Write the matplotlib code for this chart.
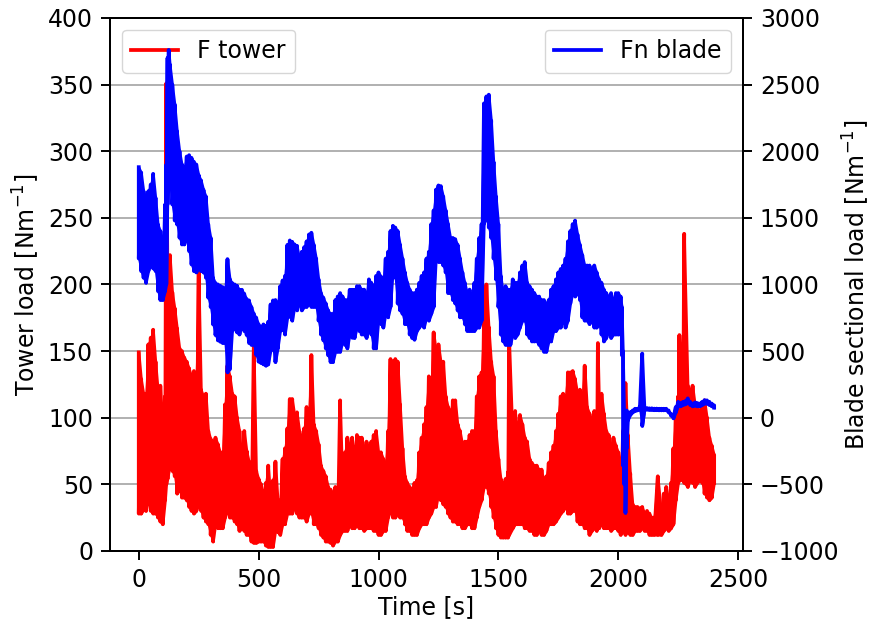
import numpy as np
import matplotlib
matplotlib.use("Agg")
import matplotlib.pyplot as plt

# Tower load: per-window max / min envelope [N/m]
tower_t = [0, 10, 20, 30, 40, 50, 60, 70, 80, 90, 100, 110, 115, 120, 130, 140, 150, 160, 170, 180,
           190, 200, 210, 220, 230, 240, 250, 260, 270, 280, 290, 300, 310, 320, 330, 340, 350, 360, 370, 380,
           390, 400, 410, 420, 430, 440, 450, 460, 470, 480, 490, 500, 510, 520, 530, 540, 550, 560, 570, 580,
           590, 600, 610, 620, 630, 640, 650, 660, 670, 680, 690, 700, 710, 720, 730, 740, 750, 760, 770, 780,
           790, 800, 810, 820, 830, 840, 850, 860, 870, 880, 890, 900, 910, 920, 930, 940, 950, 960, 970, 980,
           990, 1000, 1010, 1020, 1030, 1040, 1050, 1060, 1070, 1080, 1090, 1100, 1110, 1120, 1130, 1140, 1150, 1160, 1170, 1180,
           1190, 1200, 1210, 1220, 1230, 1240, 1250, 1260, 1270, 1280, 1290, 1300, 1310, 1320, 1330, 1340, 1350, 1360, 1370, 1380,
           1390, 1400, 1410, 1420, 1430, 1440, 1450, 1460, 1470, 1480, 1490, 1500, 1510, 1520, 1530, 1540, 1545, 1560, 1570, 1580,
           1590, 1600, 1610, 1620, 1630, 1640, 1650, 1660, 1670, 1680, 1690, 1700, 1710, 1720, 1730, 1740, 1750, 1760, 1770, 1780,
           1790, 1800, 1810, 1820, 1830, 1840, 1850, 1860, 1870, 1880, 1890, 1900, 1910, 1915, 1920, 1930, 1940, 1950, 1960, 1970,
           1980, 1990, 2000, 2010, 2020, 2030, 2040, 2050, 2060, 2070, 2080, 2090, 2100, 2110, 2120, 2130, 2140, 2150, 2165, 2180,
           2190, 2200, 2210, 2220, 2230, 2240, 2250, 2255, 2260, 2270, 2275, 2290, 2300, 2310, 2320, 2330, 2340, 2350, 2360, 2370,
           2380, 2390, 2400]
tower_hi = [149, 129, 118, 118, 155, 160, 166, 142, 121, 124, 95, 116, 351, 219, 222, 194, 182, 167, 152, 150,
            145, 142, 137, 131, 135, 131, 209, 121, 116, 118, 90, 84, 82, 85, 80, 74, 74, 110, 139, 131,
            118, 116, 100, 90, 67, 90, 75, 67, 64, 155, 60, 54, 50, 43, 51, 64, 40, 53, 67, 38,
            38, 69, 77, 92, 114, 114, 102, 104, 90, 85, 92, 108, 105, 147, 95, 90, 80, 64, 60, 56,
            48, 46, 43, 48, 38, 113, 51, 74, 85, 77, 85, 74, 87, 85, 85, 77, 82, 77, 82, 87,
            90, 74, 74, 69, 64, 90, 144, 142, 144, 142, 110, 77, 56, 51, 48, 43, 51, 53, 74, 85,
            95, 108, 131, 118, 164, 150, 155, 142, 142, 116, 108, 105, 113, 113, 95, 90, 80, 82, 82, 87,
            90, 90, 116, 131, 134, 175, 200, 168, 142, 131, 90, 69, 54, 51, 54, 59, 161, 85, 105, 90,
            102, 95, 85, 82, 69, 66, 64, 64, 61, 61, 51, 56, 66, 74, 79, 90, 103, 116, 118, 116,
            134, 134, 135, 129, 118, 121, 116, 139, 108, 103, 98, 105, 100, 156, 116, 118, 103, 90, 87, 77,
            85, 79, 74, 64, 90, 126, 87, 58, 35, 33, 33, 32, 33, 28, 30, 28, 25, 25, 56, 28,
            43, 48, 38, 51, 77, 103, 116, 162, 155, 116, 238, 124, 121, 124, 110, 108, 105, 110, 113, 100,
            85, 79, 72]
tower_lo = [28, 28, 31, 30, 38, 30, 28, 28, 25, 22, 20, 38, 50, 54, 64, 60, 56, 43, 46, 40,
            40, 38, 33, 30, 28, 30, 35, 30, 25, 22, 20, 12, 7, 20, 17, 17, 17, 25, 30, 25,
            25, 22, 20, 15, 17, 15, 12, 12, 7, 6, 6, 7, 7, 7, 4, 3, 3, 3, 15, 14,
            12, 20, 20, 28, 28, 28, 33, 28, 25, 25, 25, 22, 28, 28, 20, 20, 17, 12, 10, 7,
            7, 6, 4, 7, 7, 12, 15, 15, 15, 20, 17, 17, 20, 17, 17, 15, 17, 17, 17, 15,
            15, 12, 12, 15, 15, 25, 30, 25, 25, 28, 25, 25, 20, 15, 15, 12, 12, 12, 17, 20,
            20, 20, 25, 28, 33, 33, 43, 38, 35, 33, 28, 25, 22, 22, 20, 20, 17, 17, 20, 20,
            17, 17, 25, 33, 38, 48, 48, 43, 33, 25, 17, 12, 10, 10, 10, 10, 12, 17, 20, 20,
            20, 20, 17, 17, 15, 15, 12, 12, 15, 12, 12, 15, 20, 20, 20, 22, 25, 28, 30, 33,
            28, 28, 30, 30, 22, 20, 20, 17, 17, 12, 15, 17, 15, 20, 17, 20, 17, 17, 17, 15,
            17, 17, 15, 12, 15, 12, 15, 12, 12, 15, 15, 15, 17, 15, 15, 12, 12, 12, 12, 12,
            15, 17, 15, 17, 20, 38, 51, 53, 53, 56, 51, 48, 53, 51, 48, 51, 53, 51, 43, 40,
            38, 40, 51]

# Blade sectional load: per-window max / min envelope [N/m]
blade_t = [0, 10, 20, 30, 40, 50, 60, 70, 80, 90, 100, 110, 115, 120, 125, 130, 140, 150, 160, 170,
           180, 190, 200, 210, 220, 230, 240, 250, 260, 270, 280, 290, 300, 310, 320, 330, 340, 350, 360, 370,
           380, 390, 400, 410, 420, 430, 440, 450, 460, 470, 480, 490, 500, 510, 520, 530, 540, 550, 560, 570,
           580, 590, 600, 610, 620, 630, 640, 650, 660, 670, 680, 690, 700, 710, 720, 730, 740, 750, 760, 770,
           780, 790, 800, 810, 820, 830, 840, 850, 860, 870, 880, 890, 900, 910, 920, 930, 940, 950, 960, 970,
           980, 990, 1000, 1010, 1020, 1030, 1040, 1050, 1060, 1070, 1080, 1090, 1100, 1110, 1120, 1130, 1140, 1150, 1160, 1170,
           1180, 1190, 1200, 1210, 1220, 1230, 1240, 1250, 1260, 1270, 1280, 1290, 1300, 1310, 1320, 1330, 1340, 1350, 1360, 1370,
           1380, 1390, 1400, 1410, 1420, 1430, 1440, 1450, 1460, 1470, 1480, 1490, 1500, 1510, 1520, 1530, 1540, 1550, 1560, 1570,
           1580, 1590, 1600, 1610, 1620, 1630, 1640, 1650, 1660, 1670, 1680, 1690, 1700, 1710, 1720, 1730, 1740, 1750, 1760, 1770,
           1780, 1790, 1800, 1810, 1820, 1830, 1840, 1850, 1860, 1870, 1880, 1890, 1900, 1910, 1920, 1930, 1940, 1950, 1960, 1970,
           1980, 1990, 2000, 2010, 2015, 2020, 2025, 2030, 2035, 2040, 2050, 2060, 2070, 2080, 2090, 2100, 2110, 2120, 2130, 2140,
           2150, 2160, 2170, 2180, 2190, 2200, 2210, 2220, 2230, 2240, 2250, 2260, 2270, 2280, 2290, 2300, 2310, 2320, 2330, 2340,
           2350, 2360, 2370, 2380, 2390, 2400]
blade_hi = [1880, 1840, 1700, 1650, 1700, 1750, 1830, 1650, 1450, 1400, 1300, 1600, 1900, 2700, 2760, 2650, 2500, 2350, 2150, 2000,
            1900, 1880, 1960, 1970, 1950, 1920, 1900, 1820, 1780, 1710, 1660, 1450, 1350, 1050, 1010, 1000, 990, 980, 970, 1190,
            1040, 1010, 1000, 990, 960, 960, 930, 890, 880, 830, 780, 750, 700, 680, 700, 690, 720, 850, 880, 883,
            860, 987, 1030, 1064, 1297, 1330, 1320, 1300, 1290, 1194, 1245, 1280, 1323, 1375, 1388, 1297, 1194, 1038, 935, 900,
            857, 805, 779, 779, 883, 910, 935, 909, 883, 883, 960, 960, 960, 987, 987, 961, 961, 935, 1038, 1012,
            987, 1064, 1090, 1060, 1012, 1194, 1245, 1401, 1440, 1427, 1401, 1297, 1194, 1090, 1012, 961, 935, 935, 961, 1012,
            1064, 1090, 1194, 1245, 1453, 1556, 1712, 1743, 1738, 1660, 1556, 1453, 1349, 1349, 1340, 1297, 1194, 1090, 1012, 935,
            961, 909, 1012, 1194, 1349, 1453, 2359, 2411, 2424, 2230, 1919, 1660, 1453, 1064, 935, 987, 961, 961, 1038, 1012,
            1012, 1090, 1142, 1168, 1012, 987, 961, 935, 909, 909, 883, 883, 857, 883, 961, 987, 1038, 1090, 1116, 1142,
            1194, 1323, 1401, 1453, 1479, 1375, 1297, 1220, 1142, 1142, 1142, 1116, 1142, 1090, 1038, 1012, 961, 935, 909, 935,
            883, 935, 935, 909, 831, 500, 54, 0, 54, 30, 41, 54, 67, 67, 80, 481, 75, 72, 70, 70,
            68, 68, 67, 67, 67, 67, 54, 28, 8, 80, 119, 110, 119, 125, 145, 119, 106, 115, 110, 106,
            119, 132, 130, 119, 106, 93]
blade_lo = [1194, 1100, 1050, 1012, 1100, 1150, 1120, 1100, 950, 883, 883, 950, 1000, 1600, 1750, 1750, 1600, 1480, 1450, 1350,
            1300, 1300, 1350, 1250, 1150, 1100, 1090, 1120, 1100, 1090, 1050, 900, 830, 700, 620, 580, 570, 560, 560, 340,
            365, 650, 670, 640, 624, 700, 650, 620, 560, 546, 546, 470, 420, 410, 400, 390, 400, 500, 520, 417,
            520, 650, 660, 624, 750, 760, 728, 830, 805, 857, 805, 831, 831, 857, 831, 831, 831, 728, 624, 580,
            520, 468, 417, 417, 494, 494, 494, 572, 546, 520, 624, 600, 598, 676, 650, 624, 624, 598, 676, 624,
            520, 520, 728, 702, 676, 779, 753, 831, 1100, 1050, 857, 805, 779, 702, 702, 624, 598, 585, 650, 676,
            702, 676, 753, 728, 779, 831, 1194, 1168, 1168, 1142, 1090, 935, 935, 883, 857, 805, 753, 753, 702, 650,
            650, 650, 650, 676, 676, 728, 1453, 1505, 1427, 1349, 1194, 1038, 831, 624, 572, 546, 546, 546, 624, 598,
            624, 676, 728, 728, 624, 598, 572, 572, 572, 546, 520, 494, 494, 572, 572, 650, 650, 676, 676, 728,
            676, 728, 857, 935, 909, 935, 883, 753, 728, 728, 702, 728, 676, 676, 702, 624, 572, 598, 650, 598,
            624, 624, 624, 624, 469, -360, -500, -715, -231, -20, 20, 40, 50, 55, 60, -62, 60, 60, 58, 58,
            56, 56, 55, 55, 55, 55, 40, 15, -5, 40, 90, 85, 95, 100, 110, 95, 85, 90, 85, 85,
            95, 105, 105, 95, 85, 75]


def envelope_path(t, hi, lo):
    """Min/max decimated trace: a vertical stroke per window, joined end to start."""
    t = np.asarray(t, float)
    xs = np.repeat(t, 2)
    ys = np.column_stack([hi, lo]).ravel()
    return xs, ys


FS = 17
plt.rcParams.update({
    "font.family": "DejaVu Sans",
    "font.size": FS,
    "axes.linewidth": 1.4,
    "xtick.major.width": 1.4,
    "ytick.major.width": 1.4,
    "xtick.major.size": 6.2,
    "ytick.major.size": 6.2,
    "xtick.major.pad": 6.0,
    "ytick.major.pad": 6.0,
})

fig = plt.figure(figsize=(8.73, 6.19), dpi=100)
ax1 = fig.add_axes([0.126, 0.110, 0.725, 0.861])
ax2 = ax1.twinx()

LW = 2.7
tx, ty = envelope_path(tower_t, tower_hi, tower_lo)
bx, by = envelope_path(blade_t, blade_hi, blade_lo)

ax1.fill_between(tower_t, tower_lo, tower_hi, color="red", lw=LW * 0.6)
ax1.plot(tx, ty, color="red", lw=LW, label="F tower")
ax2.fill_between(blade_t, blade_lo, blade_hi, color="blue", lw=LW * 0.6)
ax2.plot(bx, by, color="blue", lw=LW, label="Fn blade")

ax1.set_xlim(-120, 2520)
ax1.set_ylim(0, 400)
ax2.set_ylim(-1000, 3000)
ax1.set_yticks(np.arange(0, 401, 50))
ax2.set_yticks(np.arange(-1000, 3001, 500))
ax1.set_xticks(np.arange(0, 2501, 500))

ax1.grid(axis="y", color="#b0b0b0", lw=1.4)
ax1.set_axisbelow(True)

ax1.set_xlabel("Time [s]", labelpad=2)
ax1.set_ylabel("Tower load [Nm$^{-1}$]")
ax2.set_ylabel("Blade sectional load [Nm$^{-1}$]", labelpad=1)

ax1.legend(loc="upper left")
ax2.legend(loc="upper right")

fig.savefig("out.png", dpi=100)
